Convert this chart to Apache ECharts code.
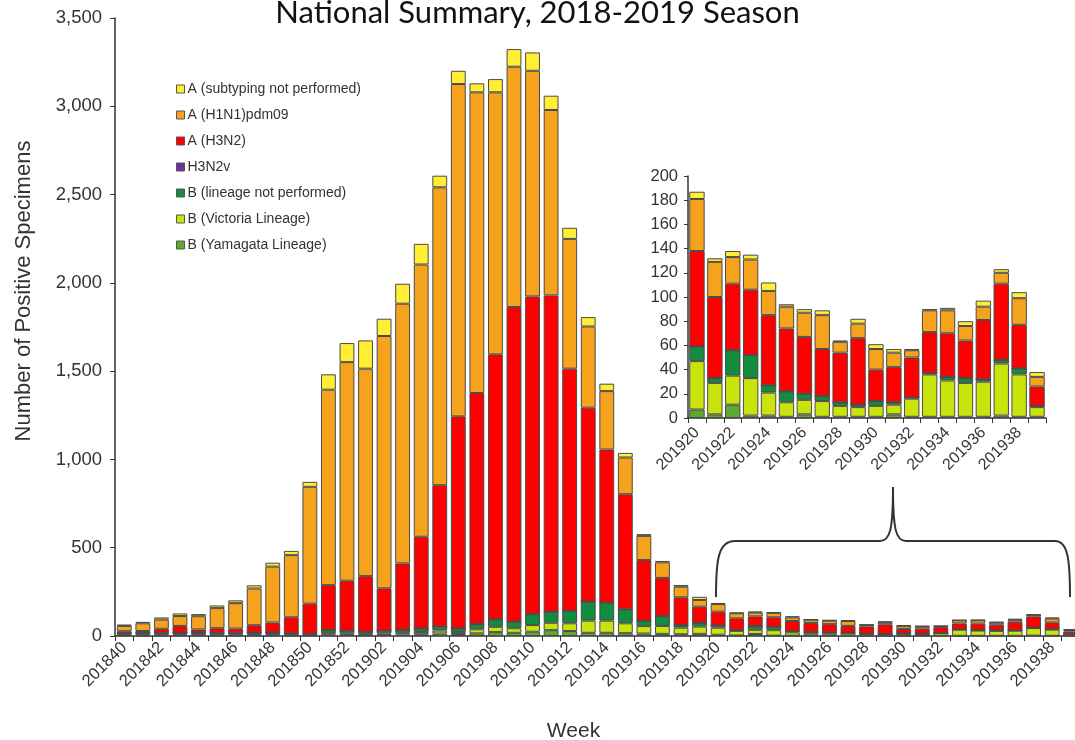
<!DOCTYPE html>
<html>
<head>
<meta charset="utf-8">
<script src="https://cdn.jsdelivr.net/npm/echarts@6/dist/echarts.min.js"></script>
<style>
html,body{margin:0;padding:0;background:#fff;}
#chart{width:1075px;height:740px;}
</style>
</head>
<body>
<div id="chart"></div>
<script>
const weeks = ['201840','201841','201842','201843','201844','201845','201846','201847','201848','201849','201850','201851','201852',
  '201901','201902','201903','201904','201905','201906','201907','201908','201909','201910','201911','201912','201913','201914',
  '201915','201916','201917','201918','201919','201920','201921','201922','201923','201924','201925','201926','201927','201928',
  '201929','201930','201931','201932','201933','201934','201935','201936','201937','201938','201939'];

const aSubtypingNotPerformed = [8,8,12,15,12,15,16,18,22,24,28,87,108,160,98,113,117,66,75,51,75,100,104,81,63,53,42,26,10,8,10,18,
  6,3,5,4,7,2,3,4,1,4,4,3,1,1,2,4,5,3,5,4];
const aH1N1pdm09 = [30,44,52,56,75,114,144,208,317,352,662,1107,1238,1175,1429,1471,1542,1687,1882,1703,1484,1361,1278,1050,735,460,331,208,137,88,60,38,
  43,29,22,25,20,18,20,28,9,12,17,12,6,18,19,12,11,9,22,8];
const aH3N2 = [12,12,25,38,18,28,26,41,56,91,170,254,283,315,240,377,519,801,1201,1308,1501,1782,1799,1792,1371,1099,867,652,344,217,157,91,
  79,67,55,54,58,52,47,39,41,55,26,29,33,34,36,31,49,63,36,16];
const h3n2v = [0,0,0,0,0,0,0,0,0,0,0,0,0,0,0,0,0,0,0,0,0,0,0,0,0,0,0,0,0,0,0,0,
  0,0,0,0,0,0,0,0,0,0,0,0,0,0,0,0,0,0,0,0];
const bLineageNotPerformed = [7,8,8,10,10,8,8,10,10,8,6,18,15,12,15,16,20,22,20,30,42,37,62,62,71,107,102,79,30,55,15,22,
  12,4,21,19,6,9,5,4,3,2,4,2,1,1,3,4,2,3,5,1];
const bVictoria = [4,5,5,5,5,5,5,6,6,4,4,9,9,7,9,10,13,17,12,23,30,26,38,42,44,69,69,56,42,45,37,41,
  40,26,24,31,19,12,12,13,9,8,9,8,15,35,30,28,29,43,35,8];
const bYamagata = [4,3,3,4,4,3,3,4,4,3,3,7,6,5,6,8,10,14,11,15,22,18,24,33,28,18,18,16,14,12,10,12,
  7,3,11,2,2,1,3,1,1,1,1,3,1,1,1,1,1,2,1,1];

const insetStart = weeks.indexOf('201920');
const insetWeeks = weeks.slice(insetStart);

const seriesDefs = [
  {name:'B (Yamagata Lineage)', data:bYamagata, color:'#5FA82F'},
  {name:'B (Victoria Lineage)', data:bVictoria, color:'#C8E40C'},
  {name:'B (lineage not performed)', data:bLineageNotPerformed, color:'#128C3E'},
  {name:'H3N2v', data:h3n2v, color:'#7030A0'},
  {name:'A (H3N2)', data:aH3N2, color:'#FE0000'},
  {name:'A (H1N1)pdm09', data:aH1N1pdm09, color:'#F5A21D'},
  {name:'A (subtyping not performed)', data:aSubtypingNotPerformed, color:'#FFEE33'}
];

const labelFont = 'Liberation Sans';
const series = [];
seriesDefs.forEach(d => {
  series.push({
    name:d.name, type:'bar', stack:'main', xAxisIndex:0, yAxisIndex:0,
    data:d.data, barCategoryGap:'20%',
    itemStyle:{color:d.color, borderColor:'#4a4a4a', borderWidth:1},
    emphasis:{disabled:true}
  });
  series.push({
    name:d.name, type:'bar', stack:'inset', xAxisIndex:1, yAxisIndex:1,
    data:d.data.slice(insetStart), barCategoryGap:'14%',
    itemStyle:{color:d.color, borderColor:'#4a4a4a', borderWidth:1},
    emphasis:{disabled:true}
  });
});

const braceStyle = {fill:null, stroke:'#333', lineWidth:2};
const chart = echarts.init(document.getElementById('chart'), null, {renderer:'canvas'});
chart.setOption({
  animation:false,
  backgroundColor:'#ffffff',
  title:{
    text:'National Summary, 2018-2019 Season',
    left:'center', top:-8,
    textStyle:{fontFamily:'Lato', fontSize:31, fontWeight:'normal', color:'#111'}
  },
  legend:{
    orient:'vertical', left:171, top:77, itemGap:12,
    itemWidth:8, itemHeight:8, icon:'rect',
    data:['A (subtyping not performed)','A (H1N1)pdm09','A (H3N2)','H3N2v','B (lineage not performed)','B (Victoria Lineage)','B (Yamagata Lineage)'],
    textStyle:{fontFamily:labelFont, fontSize:14, color:'#333', padding:[0,0,0,-2]},
    itemStyle:{borderColor:'#555', borderWidth:1}
  },
  grid:[
    {left:115, right:-5, top:18, height:618, containLabel:false, outerBoundsMode:'none'},
    {left:688, top:176, width:358, height:242, containLabel:false, outerBoundsMode:'none'}
  ],
  xAxis:[
    {type:'category', gridIndex:0, data:weeks,
      name:'Week', nameLocation:'middle', nameGap:85,
      nameTextStyle:{fontFamily:labelFont, fontSize:21, color:'#333', padding:[0,48,0,0]},
      axisLine:{lineStyle:{color:'#333', width:1.5}},
      axisTick:{show:true, interval:0, length:5, lineStyle:{color:'#333'}},
      axisLabel:{interval:1, rotate:45, margin:9, fontFamily:labelFont, fontSize:16.5, color:'#333'}
    },
    {type:'category', gridIndex:1, data:insetWeeks,
      axisLine:{lineStyle:{color:'#333', width:1.5}},
      axisTick:{show:true, interval:0, length:5, lineStyle:{color:'#333'}},
      axisLabel:{interval:1, rotate:45, margin:12, fontFamily:labelFont, fontSize:16, color:'#333'}
    }
  ],
  yAxis:[
    {type:'value', gridIndex:0, min:0, max:3500, interval:500,
      name:'Number of Positive Specimens', nameLocation:'middle', nameGap:80,
      nameTextStyle:{fontFamily:labelFont, fontSize:22, color:'#333', padding:[0,0,0,72]},
      axisLine:{show:true, lineStyle:{color:'#333', width:1.5}},
      axisTick:{show:true, length:5, lineStyle:{color:'#333'}},
      splitLine:{show:false},
      axisLabel:{fontFamily:labelFont, fontSize:18.5, color:'#333', margin:13,
        formatter:v => v.toLocaleString('en-US')}
    },
    {type:'value', gridIndex:1, min:0, max:200, interval:20,
      axisLine:{show:true, lineStyle:{color:'#333', width:1.5}},
      axisTick:{show:true, length:4, lineStyle:{color:'#333'}},
      splitLine:{show:false},
      axisLabel:{fontFamily:labelFont, fontSize:16.5, color:'#333', margin:10}
    }
  ],
  graphic:[
    {type:'bezierCurve', z:100, shape:{x1:716,y1:597,cpx1:716,cpy1:560,cpx2:718,cpy2:541,x2:735,y2:541}, style:braceStyle},
    {type:'line', z:100, shape:{x1:735,y1:541,x2:880,y2:541}, style:braceStyle},
    {type:'bezierCurve', z:100, shape:{x1:880,y1:541,cpx1:890,cpy1:541,cpx2:893,cpy2:530,x2:893,y2:487}, style:braceStyle},
    {type:'bezierCurve', z:100, shape:{x1:893,y1:487,cpx1:893,cpy1:530,cpx2:896,cpy2:541,x2:906,y2:541}, style:braceStyle},
    {type:'line', z:100, shape:{x1:906,y1:541,x2:1055,y2:541}, style:braceStyle},
    {type:'bezierCurve', z:100, shape:{x1:1055,y1:541,cpx1:1068,cpy1:541,cpx2:1070,cpy2:560,x2:1070,y2:597}, style:braceStyle}
  ],
  series:series
});
</script>
</body>
</html>
